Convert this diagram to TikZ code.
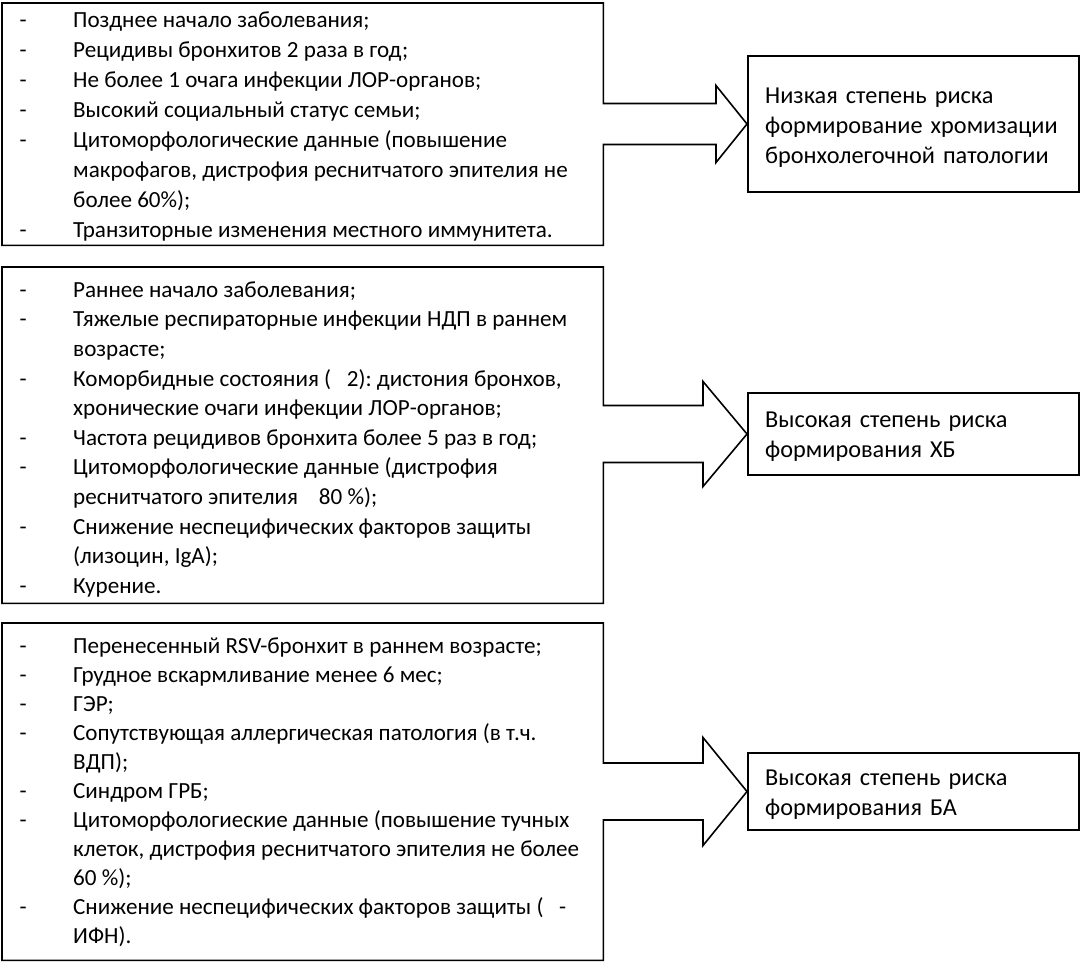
\documentclass[tikz,border=0pt]{standalone}
\usepackage{fontspec}
\setmainfont{Carlito}
\usetikzlibrary{calc}
\frenchspacing
\begin{document}
\frenchspacing
\begin{tikzpicture}[x=1pt,y=-1pt,
  boxline/.style={draw=black, line width=1.6pt, line join=miter},
  listtext/.style={anchor=north west, inner sep=0pt},
  frame/.style={anchor=north west, inner sep=0pt},
  resbox/.style={draw=black, line width=1.6pt, anchor=west, minimum width=331pt, inner sep=0pt},
  restext/.style={anchor=west, inner sep=0pt, text width=300pt, align=left,
    font=\fontsize{24.3}{30}\selectfont}]
\useasboundingbox[fill=white] (0,0) rectangle (1083,967);

% left frames
\node[frame, minimum width=601pt, minimum height=242pt] (L1) at (2,3) {};
\node[frame, minimum width=601pt, minimum height=336pt] (L2) at (2,267) {};
\node[frame, minimum width=601pt, minimum height=337pt] (L3) at (2,623) {};

% result boxes
\node[resbox, minimum height=136pt] (R1) at (747,124) {};
\node[resbox, minimum height=82pt] (R2) at (747,434) {};
\node[resbox, minimum height=77pt] (R3) at (747,791.5) {};
\node[restext] (R1t) at ($(R1.west)+(18,4)$) {Низкая степень риска\\формирование хромизации\\бронхолегочной патологии};
\node[restext] (R2t) at ($(R2.west)+(18,3)$) {Высокая степень риска\\формирования ХБ};
\node[restext] (R3t) at ($(R3.west)+(18,3)$) {Высокая степень риска\\формирования БА};

% arrow geometry
\path (R1.west) ++(-31,20.5) coordinate (a1sb) ++(0,18) coordinate (a1hb);
\path (R1.west) ++(-31,-20.5) coordinate (a1st) ++(0,-18) coordinate (a1ht);
\path (R2.west) ++(-44,28.5) coordinate (a2sb) ++(0,24) coordinate (a2hb);
\path (R2.west) ++(-44,-28.5) coordinate (a2st) ++(0,-24) coordinate (a2ht);
\path (R3.west) ++(-44,28.5) coordinate (a3sb) ++(0,25.5) coordinate (a3hb);
\path (R3.west) ++(-44,-28.5) coordinate (a3st) ++(0,-25.5) coordinate (a3ht);

\draw[boxline] (L1.north east) -- (L1.north west) -- (L1.south west) -- (L1.south east)
  -- (L1.east |- a1sb) -- (a1sb) -- (a1hb) -- (R1.west) -- (a1ht) -- (a1st) -- (L1.east |- a1st) -- cycle;
\draw[boxline] (L2.north east) -- (L2.north west) -- (L2.south west) -- (L2.south east)
  -- (L2.east |- a2sb) -- (a2sb) -- (a2hb) -- (R2.west) -- (a2ht) -- (a2st) -- (L2.east |- a2st) -- cycle;
\draw[boxline] (L3.north east) -- (L3.north west) -- (L3.south west) -- (L3.south east)
  -- (L3.east |- a3sb) -- (a3sb) -- (a3hb) -- (R3.west) -- (a3ht) -- (a3st) -- (L3.east |- a3st) -- cycle;

% list texts
\node[listtext, font=\fontsize{23.1}{30}\selectfont] (T1) at (19.5,6) {\begin{tabular}{@{}p{53.5pt}@{}l@{}}
-&Позднее начало заболевания;\\
-&Рецидивы бронхитов 2 раза в год;\\
-&Не более 1 очага инфекции ЛОР-органов;\\
-&Высокий социальный статус семьи;\\
-&Цитоморфологические данные (повышение\\
&макрофагов, дистрофия реснитчатого эпителия не\\
&более 60\%);\\
-&Транзиторные изменения местного иммунитета.
\end{tabular}};

\node[listtext, font=\fontsize{23.1}{29.6}\selectfont] (T2) at (19.5,276.3) {\begin{tabular}{@{}p{53.5pt}@{}l@{}}
-&Раннее начало заболевания;\\
-&Тяжелые респираторные инфекции НДП в раннем\\
&возрасте;\\
-&Коморбидные состояния (\ \ \ 2): дистония бронхов,\\
&хронические очаги инфекции ЛОР-органов;\\
-&Частота рецидивов бронхита более 5 раз в год;\\
-&Цитоморфологические данные (дистрофия\\
&реснитчатого эпителия \ \ \ 80 \%);\\
-&Снижение неспецифических факторов защиты\\
&(лизоцин, IgA);\\
-&Курение.
\end{tabular}};

\node[listtext, font=\fontsize{23.1}{29}\selectfont] (T3) at (19.5,632.7) {\begin{tabular}{@{}p{53.5pt}@{}l@{}}
-&Перенесенный RSV-бронхит в раннем возрасте;\\
-&Грудное вскармливание менее 6 мес;\\
-&ГЭР;\\
-&Сопутствующая аллергическая патология (в т.ч.\\
&ВДП);\\
-&Синдром ГРБ;\\
-&Цитоморфологиеские данные (повышение тучных\\
&клеток, дистрофия реснитчатого эпителия не более\\
&60 \%);\\
-&Снижение неспецифических факторов защиты (\ \ \ -\\
&ИФН).
\end{tabular}};
\end{tikzpicture}
\end{document}
